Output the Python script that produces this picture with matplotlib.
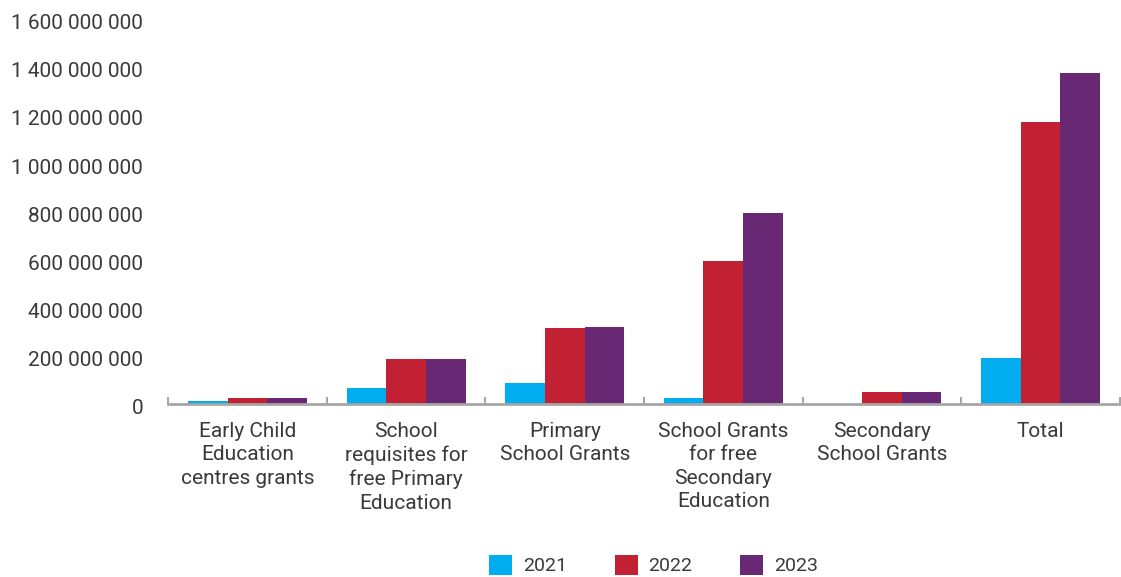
import matplotlib
matplotlib.use('Agg')
import matplotlib.pyplot as plt
import matplotlib.transforms as mtransforms
import numpy as np
from matplotlib.ticker import FuncFormatter, FixedLocator

plt.rcParams['font.family'] = ['Roboto', 'DejaVu Sans']

categories = ['Early Child\nEducation\ncentres grants',
              'School\nrequisites for\nfree Primary\nEducation',
              'Primary\nSchool Grants',
              'School Grants\nfor free\nSecondary\nEducation',
              'Secondary\nSchool Grants',
              'Total']
years = ['2021', '2022', '2023']
grants_2021 = [12e6, 66e6, 87e6, 25e6, 0, 190e6]
grants_2022 = [25e6, 187e6, 315e6, 593e6, 50e6, 1170e6]
grants_2023 = [25e6, 187e6, 320e6, 793e6, 50e6, 1375e6]
colors = ['#00AEEF', '#C22033', '#682873']

text_col = '#3A3A3A'
axis_col = '#A6A6A6'

fig = plt.figure(figsize=(11.21, 5.77), dpi=100)
ax = fig.add_axes([0.150, 0.300, 0.849, 0.668])

x = np.arange(len(categories))
w = 0.25
series = [grants_2021, grants_2022, grants_2023]
bars = []
for i, (vals, col, yr) in enumerate(zip(series, colors, years)):
    b = ax.bar(x + (i - 1) * w, vals, width=w, color=col, label=yr, zorder=2)
    bars.append(b)

ax.set_xlim(-0.5, len(categories) - 0.5)
ax.set_ylim(0, 1.6e9)
ax.yaxis.set_major_locator(FixedLocator(np.arange(0, 1.6e9 + 1, 2e8)))
ax.yaxis.set_major_formatter(FuncFormatter(lambda v, p: f'{int(v):,}'.replace(',', ' ')))

for s in ['top', 'right', 'left']:
    ax.spines[s].set_visible(False)
ax.spines['bottom'].set_color(axis_col)
ax.spines['bottom'].set_linewidth(2)
ax.spines['bottom'].set_zorder(3)

ax.tick_params(axis='y', length=0, pad=18, labelsize=15, labelcolor=text_col)
# y labels sit a few pixels below their gridline value
shift = mtransforms.ScaledTranslation(0, -3 / 100, fig.dpi_scale_trans)
for lbl in ax.get_yticklabels():
    lbl.set_transform(lbl.get_transform() + shift)

ax.set_xticks(x)
ax.set_xticklabels(categories, fontsize=15, color=text_col, linespacing=1.3)
ax.set_xticks(np.arange(-0.5, len(categories)), minor=True)
ax.tick_params(axis='x', which='major', length=0, pad=13)
ax.tick_params(axis='x', which='minor', direction='in', length=5, width=1.5,
               color=axis_col)

leg = ax.legend(handles=bars, loc='lower center', bbox_to_anchor=(0.51, -0.49),
                ncol=3, frameon=False, fontsize=14, handlelength=1.18,
                handleheight=1.18, handletextpad=0.55, columnspacing=2.45)
for t in leg.get_texts():
    t.set_color(text_col)

fig.savefig('out.png', dpi=100)
